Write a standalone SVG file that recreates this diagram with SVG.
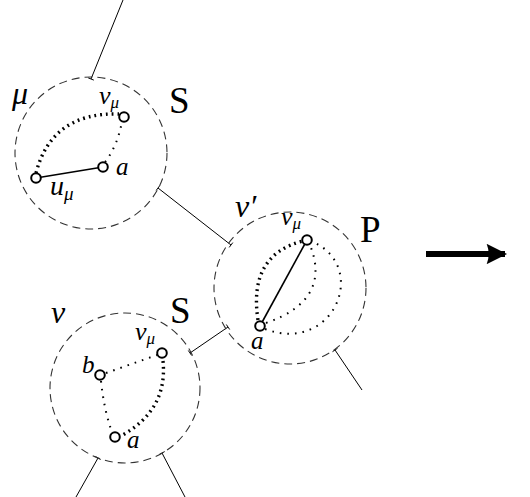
<svg xmlns="http://www.w3.org/2000/svg" width="530" height="497" viewBox="0 0 530 497">
<defs>
<style>
.bag{fill:none;stroke:#333;stroke-width:1.1;stroke-dasharray:8 5}
.edge{fill:none;stroke:#000;stroke-width:1}
.solid{fill:none;stroke:#000;stroke-width:1.6}
.thick{fill:none;stroke:#000;stroke-width:3.4;stroke-dasharray:1.8 4}
.thin{fill:none;stroke:#000;stroke-width:2;stroke-dasharray:1.6 6}
.v{fill:#fff;stroke:#000;stroke-width:2}
.lab{font-family:"Liberation Serif","DejaVu Serif",serif;font-style:italic;fill:#000}
.big{font-family:"Liberation Serif","DejaVu Serif",serif;fill:#000;font-size:37px}
</style>
<marker id="ah" viewBox="0 0 10 10" refX="9" refY="5" markerWidth="4.4" markerHeight="3.4" orient="auto" markerUnits="strokeWidth">
<path d="M0,0 L10,5 L0,10 Q2,5 0,0 Z" fill="#000"/>
</marker>
</defs>
<g id="connectors">
<line class="edge" x1="123" y1="0" x2="91" y2="79"/>
<line class="edge" x1="88.2" y1="77.9" x2="93.8" y2="80.1"/>
<line class="edge" x1="158" y1="188" x2="231" y2="245"/>
<line class="edge" x1="156.2" y1="190.4" x2="159.8" y2="185.6"/>
<line class="edge" x1="229.2" y1="247.4" x2="232.8" y2="242.6"/>
<line class="edge" x1="190" y1="353" x2="228" y2="327"/>
<line class="edge" x1="188.3" y1="350.5" x2="191.7" y2="355.5"/>
<line class="edge" x1="226.3" y1="324.5" x2="229.7" y2="329.5"/>
<line class="edge" x1="335" y1="350" x2="362" y2="390"/>
<line class="edge" x1="332.5" y1="351.7" x2="337.5" y2="348.3"/>
<line class="edge" x1="98" y1="458" x2="76" y2="497"/>
<line class="edge" x1="95.4" y1="456.5" x2="100.6" y2="459.5"/>
<line class="edge" x1="162" y1="453" x2="185" y2="497"/>
<line class="edge" x1="159.3" y1="454.4" x2="164.7" y2="451.6"/>
<line x1="426" y1="254" x2="505" y2="254" stroke="#000" stroke-width="6" marker-end="url(#ah)"/>
</g>
<g id="mu">
<circle class="bag" cx="91" cy="153" r="76"/>
<path class="thick" d="M36,173 Q52,112 119,114"/>
<path class="thin" d="M105,162 Q118,145 122,121"/>
<line class="solid" x1="36" y1="178" x2="103" y2="167"/>
<circle class="v" cx="124" cy="117" r="4.8"/>
<circle class="v" cx="103" cy="167" r="4.8"/>
<circle class="v" cx="36" cy="178" r="4.8"/>
<text class="lab" x="12" y="104" font-size="32">μ</text>
<text class="lab" x="99" y="104" font-size="26">v<tspan font-size="17" dy="4">μ</tspan></text>
<text class="lab" x="116" y="175" font-size="25">a</text>
<text class="lab" x="50" y="195" font-size="28">u<tspan font-size="19" dy="5">μ</tspan></text>
<text class="big" x="169" y="113">S</text>
</g>
<g id="nuprime">
<circle class="bag" cx="290" cy="288" r="76"/>
<path class="thick" d="M258,320 Q248,255 303,241"/>
<path class="thin" d="M266,323 Q332,300 310,245"/>
<path class="thin" d="M265,329 C335,355 370,265 311,241"/>
<line class="solid" x1="260" y1="326" x2="307" y2="240"/>
<circle class="v" cx="307" cy="240" r="4.8"/>
<circle class="v" cx="260" cy="326" r="4.8"/>
<text class="lab" x="235" y="217" font-size="32">ν′</text>
<text class="lab" x="281" y="225" font-size="26">v<tspan font-size="17" dy="4">μ</tspan></text>
<text class="lab" x="251" y="349" font-size="25">a</text>
<text class="big" x="360" y="242">P</text>
</g>
<g id="nu">
<circle class="bag" cx="125" cy="388" r="75"/>
<path class="thin" d="M106,373 L157,355"/>
<path class="thin" d="M101,381 Q104,410 112,432"/>
<path class="thick" d="M163,361 Q168,410 121,436"/>
<circle class="v" cx="162" cy="353" r="4.8"/>
<circle class="v" cx="100" cy="375" r="4.8"/>
<circle class="v" cx="115" cy="437" r="4.8"/>
<text class="lab" x="51" y="323" font-size="32">ν</text>
<text class="lab" x="135" y="340" font-size="26">v<tspan font-size="17" dy="4">μ</tspan></text>
<text class="lab" x="82" y="373" font-size="25">b</text>
<text class="lab" x="127" y="448" font-size="25">a</text>
<text class="big" x="170" y="323">S</text>
</g>
</svg>
